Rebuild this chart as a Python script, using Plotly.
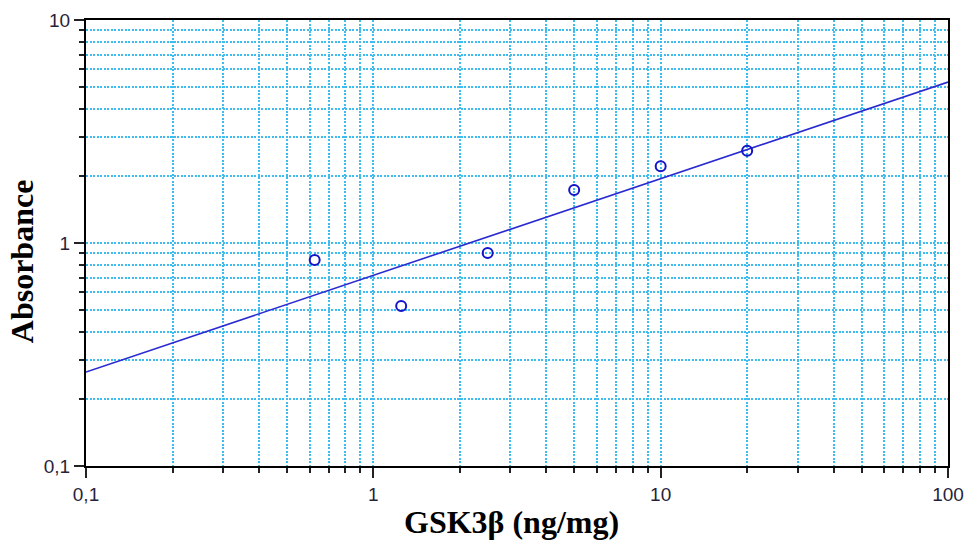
import plotly.graph_objects as go

# Data
conc = [0.625, 1.25, 2.5, 5, 10, 20]
absorbance = [0.84, 0.522, 0.902, 1.73, 2.21, 2.59]
fit_x = [0.1, 100]
fit_y = [0.264, 5.27]

x_major = [0.1, 1, 10, 100]
x_major_text = ["0,1", "1", "10", "100"]
y_major = [0.1, 1, 10]
y_major_text = ["0,1", "1", "10"]
x_minor = [m * d for d in [0.1, 1, 10] for m in range(2, 10)]
y_minor = [m * d for d in [0.1, 1] for m in range(2, 10)]

grid_col = "#3dbcef"
mark_col = "#1414c8"
line_col = "#2a2ad0"

fig = go.Figure()
fig.add_trace(go.Scatter(x=fit_x, y=fit_y, mode="lines",
                         line=dict(color=line_col, width=1.6), showlegend=False))
fig.add_trace(go.Scatter(x=conc, y=absorbance, mode="markers",
                         marker=dict(symbol="circle-open", size=10, color=mark_col,
                                     line=dict(width=2, color=mark_col)),
                         showlegend=False))

axis_common = dict(
    type="log", showline=True, linecolor="black", linewidth=2, mirror=True,
    ticks="outside", ticklen=10, tickwidth=2, tickcolor="#222",
    showgrid=True, gridcolor=grid_col, gridwidth=1.5, griddash="2px,1.5px",
    zeroline=False, automargin=False,
    tickfont=dict(family="Liberation Sans, Arial", size=19, color="#2a1f3a"),
)

fig.update_xaxes(**axis_common, range=[-1, 2], tickvals=x_major, ticktext=x_major_text,
                 minor=dict(tickvals=x_minor, ticks="outside", ticklen=5, tickwidth=2,
                            tickcolor="#222", showgrid=True, gridcolor=grid_col,
                            gridwidth=1.5, griddash="2px,1.5px"))
fig.update_yaxes(**axis_common, range=[-1, 1], tickvals=y_major, ticktext=y_major_text,
                 minor=dict(tickvals=y_minor, ticks="outside", ticklen=5, tickwidth=2,
                            tickcolor="#222", showgrid=True, gridcolor=grid_col,
                            gridwidth=1.5, griddash="2px,1.5px"))

fig.update_layout(
    width=967, height=545,
    margin=dict(l=86, r=19, t=20, b=79, autoexpand=False),
    plot_bgcolor="white", paper_bgcolor="white",
    annotations=[
        dict(text="<b>GSK3β (ng/mg)</b>", xref="paper", yref="paper",
             x=0.494, y=-0.125, xanchor="center", yanchor="middle", showarrow=False,
             font=dict(family="Liberation Serif, Times New Roman", size=32, color="black")),
        dict(text="<b>Absorbance</b>", xref="paper", yref="paper",
             x=-0.075, y=0.46, xanchor="center", yanchor="middle", showarrow=False,
             textangle=-90,
             font=dict(family="Liberation Serif, Times New Roman", size=32, color="black")),
    ],
)

fig.write_html("out.html", config={"displayModeBar": False})

# remove the default page margin so the figure sits at the window's top-left corner
with open("out.html", "r", encoding="utf-8") as f:
    html = f.read()
html = html.replace("<head>", "<head><style>html,body{margin:0;padding:0;overflow:hidden;}</style>", 1)
with open("out.html", "w", encoding="utf-8") as f:
    f.write(html)
